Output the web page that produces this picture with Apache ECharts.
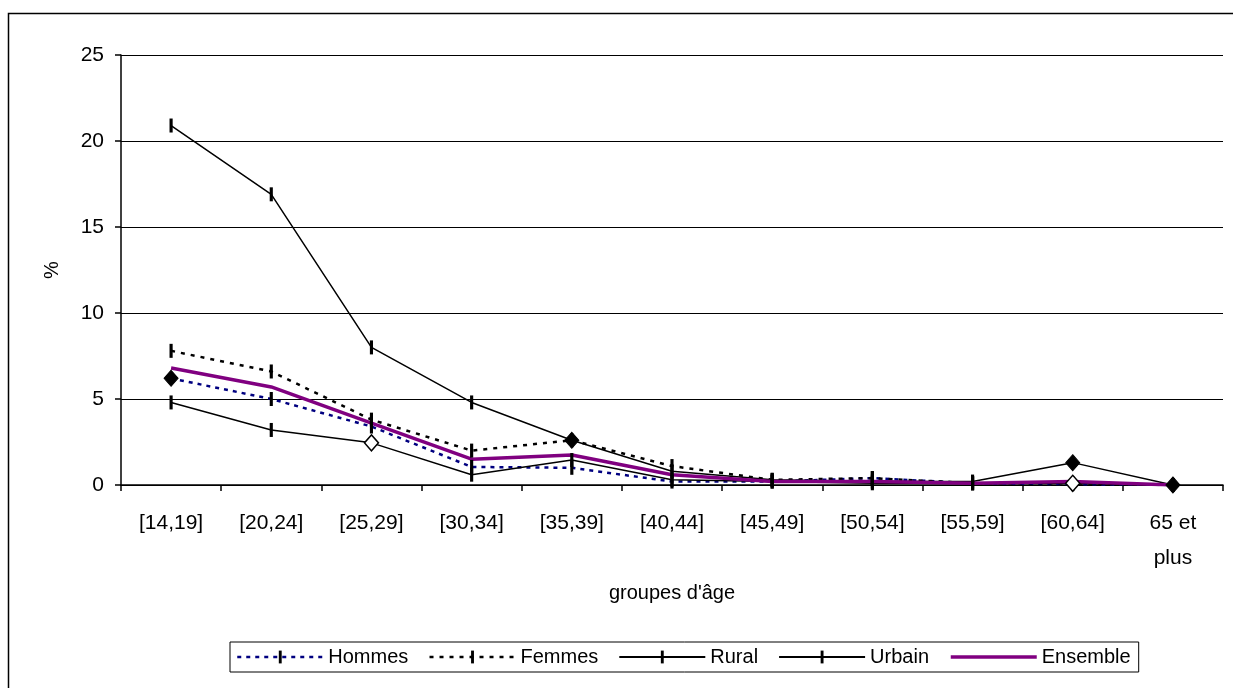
<!DOCTYPE html>
<html>
<head>
<meta charset="utf-8">
<script src="https://cdn.jsdelivr.net/npm/echarts@6/dist/echarts.min.js"></script>
<style>
  html, body { margin: 0; padding: 0; background: #fff; }
  #chart { width: 1233px; height: 688px; }
</style>
</head>
<body>
<div id="chart"></div>
<script>
// groupes d'âge (abscisse)
var categories = ['[14,19]', '[20,24]', '[25,29]', '[30,34]', '[35,39]', '[40,44]', '[45,49]', '[50,54]', '[55,59]', '[60,64]', '65 et\nplus'];
var yTicks = [0, 5, 10, 15, 20, 25];

// valeurs en %
var hommes   = [6.2, 5.0, 3.4, 1.05, 1.0, 0.2, 0.2, 0.4, 0.1, 0.05, 0];
var femmes   = [7.8, 6.6, 3.8, 2.0, 2.6, 1.1, 0.3, 0.4, 0.1, 0.1, 0];
var rural    = [4.8, 3.2, 2.45, 0.6, 1.45, 0.3, 0.2, 0.1, 0.1, 0.1, 0];
var urbain   = [20.9, 16.9, 8.0, 4.8, 2.6, 0.8, 0.3, 0.2, 0.2, 1.3, 0];
var ensemble = [6.8, 5.7, 3.6, 1.5, 1.74, 0.6, 0.2, 0.2, 0.1, 0.2, 0];

// points marqués d'un losange (index -> plein / vide)
var diamondsHommes = { 0: 'full' };
var diamondsFemmes = { 4: 'full' };
var diamondsRural  = { 2: 'empty', 9: 'empty' };
var diamondsUrbain = { 9: 'full', 10: 'full' };

// petit trait vertical (boîte carrée pour garder la forme dans la légende)
var tickMark = 'path://M0 0L0 0M4 4L4 4M1.55 0H2.45V4H1.55Z';

function withDiamonds(values, marks) {
	return values.map(function (v, i) {
		if (!marks[i]) return v;
		return {
			value: v,
			symbol: 'diamond',
			symbolSize: [14, 16],
			itemStyle: marks[i] === 'full'
				? { color: '#000', borderColor: '#000', borderWidth: 1 }
				: { color: '#fff', borderColor: '#000', borderWidth: 1.5 }
		};
	});
}

function lineSerie(name, values, marks, lineColor, dash, width) {
	return {
		name: name,
		type: 'line',
		data: withDiamonds(values, marks),
		symbol: tickMark,
		symbolSize: 14,
		showAllSymbol: true,
		animation: false,
		itemStyle: { color: '#000', borderWidth: 0 },
		lineStyle: { color: lineColor, width: width, type: dash }
	};
}

var myChart = echarts.init(document.getElementById('chart'));
var option = {
	backgroundColor: '#fff',
	animation: false,
	textStyle: { fontFamily: 'Liberation Sans, Arial, sans-serif', color: '#000' },
	graphic: [{
		type: 'rect',
		shape: { x: 8.5, y: 13.5, width: 1300, height: 700 },
		style: { fill: 'none', stroke: '#000', lineWidth: 1.5 },
		silent: true
	}],
	grid: { left: 121, right: 10, top: 55, bottom: 203 },
	legend: {
		left: 230,
		top: 642,
		padding: [5, 8, 5, 6],
		borderColor: '#000',
		borderWidth: 1,
		itemWidth: 86,
		itemHeight: 16,
		itemGap: 20,
		textStyle: { fontSize: 20, color: '#000', fontFamily: 'Liberation Sans, Arial, sans-serif' },
		data: [
			{ name: 'Hommes', lineStyle: { width: 2.5 } },
			{ name: 'Femmes', lineStyle: { width: 2.5 } },
			'Rural', 'Urbain',
			{ name: 'Ensemble', itemStyle: { color: 'rgba(0,0,0,0)', borderWidth: 0 }, lineStyle: { width: 3.5 } }
		]
	},
	xAxis: {
		type: 'category',
		data: categories,
		boundaryGap: true,
		name: "groupes d'âge",
		nameLocation: 'middle',
		nameGap: 98,
		nameTextStyle: { fontSize: 20, color: '#000' },
		axisLine: { lineStyle: { color: '#000', width: 1.5 } },
		axisTick: { show: true, alignWithLabel: false, length: 6, lineStyle: { color: '#000', width: 1.5 } },
		axisLabel: { interval: 0, fontSize: 21, color: '#000', margin: 21, lineHeight: 35 }
	},
	yAxis: {
		type: 'value',
		min: yTicks[0],
		max: yTicks[yTicks.length - 1],
		interval: 5,
		name: '%',
		nameLocation: 'middle',
		nameGap: 59,
		nameTextStyle: { fontSize: 20, color: '#000' },
		axisLine: { show: true, lineStyle: { color: '#000', width: 1.5 } },
		axisTick: { show: true, length: 6, lineStyle: { color: '#000', width: 1.5 } },
		axisLabel: { fontSize: 21, color: '#000', margin: 17 },
		splitLine: { show: true, lineStyle: { color: '#000', width: 1.2 } }
	},
	series: [
		lineSerie('Hommes', hommes, diamondsHommes, '#000080', [4, 5], 2.5),
		lineSerie('Femmes', femmes, diamondsFemmes, '#000', [4, 6], 2.5),
		lineSerie('Rural', rural, diamondsRural, '#000', 'solid', 1.5),
		lineSerie('Urbain', urbain, diamondsUrbain, '#000', 'solid', 1.5),
		{
			name: 'Ensemble',
			type: 'line',
			data: ensemble,
			symbol: 'none',
			animation: false,
			itemStyle: { color: '#800080' },
			lineStyle: { color: '#800080', width: 3.5 }
		}
	]
};
myChart.setOption(option);

window.onresize = function () {
	myChart.resize();
};
</script>
</body>
</html>
